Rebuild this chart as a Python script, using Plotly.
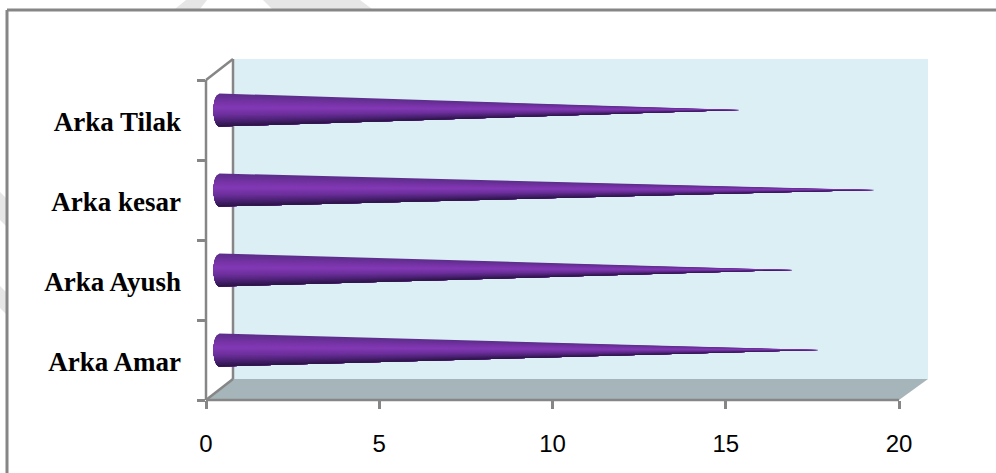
import plotly.graph_objects as go
import numpy as np

categories = ["Arka Amar", "Arka Ayush", "Arka kesar", "Arka Tilak"]
values = [17.3, 16.55, 18.9, 15.0]
x_ticks = [0, 5, 10, 15, 20]

W, H = 996, 473
L, R, T, B = 206, 928, 59, 400     # plot rectangle in pixels
PX_PER_X = (899 - 206) / 20
PX_PER_Y = 80.0
DEPTH_X = 13.5 / PX_PER_X          # pseudo-3D depth shift
DEPTH_Y = 10 / PX_PER_Y
HALF_H = 16.5 / PX_PER_Y
RX = 6 / PX_PER_X

stops = [(-1.0, (92, 46, 138)), (-0.5, (118, 52, 165)), (-0.15, (132, 57, 182)),
         (0.3, (108, 47, 155)), (0.7, (72, 33, 112)), (1.0, (44, 20, 68))]

def shade(t):
    ts = [s[0] for s in stops]
    return "rgb(%d,%d,%d)" % tuple(np.interp(t, ts, [s[1][i] for s in stops]) for i in range(3))

def base_x(t):
    return -RX * np.sqrt(max(0.0, 1 - t * t))

fig = go.Figure()
edges = np.linspace(-1, 1, 25)
for a, next_a in zip(edges[:-1], edges[1:]):
    xs, ys = [], []
    for i, v in enumerate(values):
        centre = i + 0.5 + DEPTH_Y
        # each layer covers everything from a down to the bottom edge, painted top-down (no seams)
        arc = np.linspace(a, 1, 20)
        xs += [DEPTH_X + base_x(t) for t in arc] + [DEPTH_X + v, None]
        ys += [centre - t * HALF_H for t in arc] + [centre, None]
    c = shade((a + next_a) / 2)
    fig.add_trace(go.Scatter(x=xs, y=ys, mode="none", fill="toself", fillcolor=c,
                             hoverinfo="skip", showlegend=False))

def px(x): return (x - L) / (R - L)
def py(y): return (B - y) / (B - T)

def poly(points, fill):
    path = "M " + " L ".join(f"{px(x):.5f},{py(y):.5f}" for x, y in points) + " Z"
    return dict(type="path", xref="paper", yref="paper", path=path, fillcolor=fill,
                line=dict(width=0), layer="below")

def seg(x0, y0, x1, y1, w=2.5, color="#868686"):
    return dict(type="line", xref="paper", yref="paper", x0=px(x0), y0=py(y0), x1=px(x1), y1=py(y1),
                line=dict(color=color, width=w), layer="below")

wm = "#e6e6e6"
shapes = [
    poly([(233, 59), (928, 59), (928, 379), (233, 379)], "#dceff5"),
    poly([(206, 400), (233, 379), (928, 379), (899, 400)], "#a6b5b9"),
    poly([(175, 9), (186, 0), (207, 0), (200, 9)], wm),
    poly([(272, 9), (263, 0), (360, 0), (372, 9)], wm),
    poly([(0, 192), (6, 198), (6, 226), (0, 220)], wm),
    poly([(0, 286), (6, 292), (6, 314), (0, 308)], wm),
    seg(206, 80, 206, 400), seg(206, 400, 899, 400),
    seg(233, 59, 233, 379), seg(206, 80, 233, 59), seg(206, 400, 233, 379),
    seg(7, 10, 996, 10, w=3), seg(7, 10, 7, 473, w=3),
]

fig.update_layout(
    width=W, height=H, autosize=False,
    margin=dict(l=L, r=W - R, t=T, b=H - B, pad=0),
    paper_bgcolor="white", plot_bgcolor="rgba(0,0,0,0)",
    shapes=shapes, showlegend=False,
    xaxis=dict(range=[0, (R - L) / PX_PER_X], tickmode="array", tickvals=x_ticks,
               ticktext=[str(v) for v in x_ticks], ticks="outside", ticklen=8, tickwidth=2.5,
               tickcolor="#868686", showgrid=False, zeroline=False, showline=False,
               ticklabelstandoff=14,
               tickfont=dict(family="Liberation Sans", size=24, color="black")),
    yaxis=dict(range=[0, (B - T) / PX_PER_Y], tickmode="array",
               tickvals=[i + 0.48 for i in range(4)], ticktext=categories, ticks="",
               showgrid=False, zeroline=False, showline=False, ticklabelstandoff=24,
               tickfont=dict(family="Liberation Serif", size=27, color="black", weight="bold"),
               minor=dict(tickmode="array", tickvals=[0, 1, 2, 3, 4], ticks="outside", ticklen=8,
                          tickwidth=2.5, tickcolor="#868686", showgrid=False)),
)
fig.write_html("out.html", config=dict(displayModeBar=False),
               post_script="document.body.style.margin='0';document.documentElement.style.overflow='hidden';")
